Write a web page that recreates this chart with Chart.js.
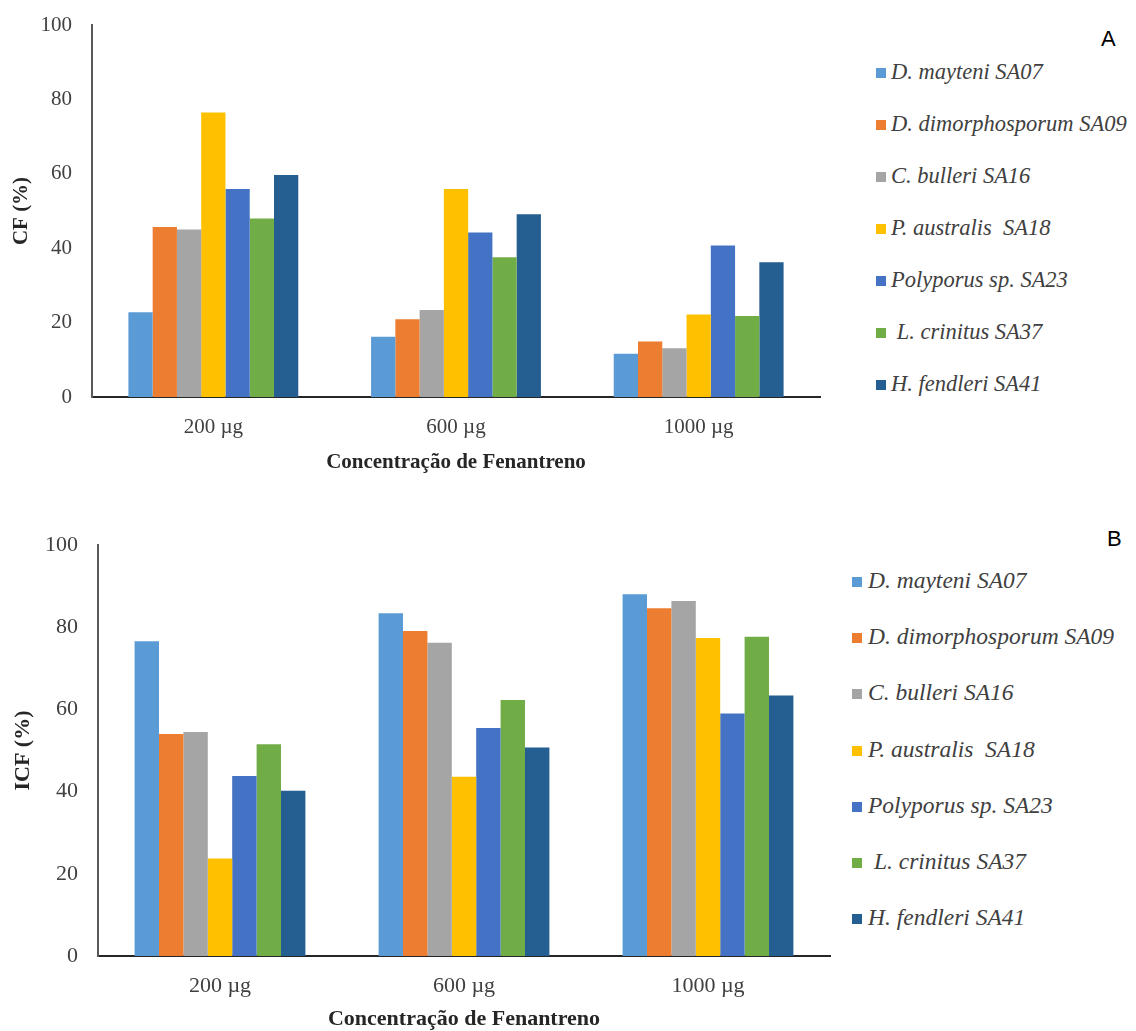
<!DOCTYPE html>
<html>
<head>
<meta charset="utf-8">
<script src="https://cdn.jsdelivr.net/npm/chart.js@4.4.0/dist/chart.umd.min.js"></script>
<style>
  body { margin: 0; background: #fff; width: 1136px; height: 1031px; position: relative; overflow: hidden; }
  canvas { position: absolute; left: 0; }
  .legend { position: absolute; font-family: "Liberation Serif", serif; font-style: italic; color: #404040; }
  .legend .item { position: absolute; white-space: pre; line-height: 1; }
  .legend .sw { position: absolute; width: 10px; height: 10px; }
  .tag { position: absolute; font-family: "Liberation Sans", sans-serif; font-size: 22px; color: #000; }
</style>
</head>
<body>
<canvas id="chartA" width="840" height="480" style="top:0"></canvas>
<canvas id="chartB" width="850" height="531" style="top:500px"></canvas>
<div class="legend" id="legendA"></div>
<div class="legend" id="legendB"></div>
<div class="tag" style="left:1101px; top:26px;">A</div>
<div class="tag" style="left:1107px; top:526px;">B</div>

<script>
// categories and series
const concentrations = ['200 µg', '600 µg', '1000 µg'];
const strains = ['D. mayteni SA07', 'D. dimorphosporum SA09', 'C. bulleri SA16', 'P. australis  SA18',
                 'Polyporus sp. SA23', ' L. crinitus SA37', 'H. fendleri SA41'];
const colors = ['#5B9BD5', '#ED7D31', '#A5A5A5', '#FFC000', '#4472C4', '#70AD47', '#255E91'];

// CF (%) values per strain: 200, 600, 1000 µg
const cfValues = [
  [22.8, 16.2, 11.6],
  [45.7, 20.9, 14.9],
  [45.0, 23.4, 13.1],
  [76.5, 55.9, 22.2],
  [55.9, 44.2, 40.7],
  [48.0, 37.6, 21.8],
  [59.7, 49.1, 36.2]
];

// ICF (%) values per strain: 200, 600, 1000 µg
const icfValues = [
  [76.6, 83.4, 88.0],
  [54.0, 79.1, 84.6],
  [54.5, 76.2, 86.4],
  [23.7, 43.6, 77.4],
  [43.8, 55.5, 59.0],
  [51.5, 62.3, 77.7],
  [40.2, 50.7, 63.4]
];

const yTicks = [0, 20, 40, 60, 80, 100];

function makeChart(id, values, yTitle, cfg) {
  const ctx = document.getElementById(id).getContext('2d');
  return new Chart(ctx, {
    type: 'bar',
    data: {
      labels: concentrations,
      datasets: strains.map((name, i) => ({
        label: name,
        data: values[i],
        backgroundColor: colors[i],
        borderWidth: 0,
        categoryPercentage: 0.7,
        barPercentage: 1.0
      }))
    },
    options: {
      responsive: false,
      animation: false,
      layout: { padding: { left: 0, right: cfg.padRight, top: cfg.padTop, bottom: 0 } },
      plugins: { legend: { display: false }, tooltip: { enabled: false } },
      scales: {
        x: {
          grid: { display: false, drawTicks: false },
          border: { color: '#262626', width: 2 },
          ticks: {
            color: '#404040',
            padding: cfg.xTickPad,
            font: { family: 'Liberation Serif', size: cfg.tickSize }
          },
          title: {
            display: true,
            text: 'Concentração de Fenantreno',
            color: '#262626',
            padding: { top: 0, bottom: cfg.xTitlePad },
            font: { family: 'Liberation Serif', size: cfg.titleSize, weight: 'bold' }
          },
          afterFit: s => { s.height = cfg.xHeight; }
        },
        y: {
          min: 0,
          max: 100,
          afterBuildTicks: s => { s.ticks = yTicks.map(v => ({ value: v })); },
          grid: { display: false, drawTicks: false },
          border: { color: '#595959', width: 2 },
          ticks: {
            color: '#404040',
            padding: 20,
            font: { family: 'Liberation Serif', size: cfg.tickSize }
          },
          title: {
            display: true,
            text: yTitle,
            color: '#262626',
            padding: { top: cfg.yTitlePad, bottom: 0 },
            font: { family: 'Liberation Serif', size: cfg.titleSize, weight: 'bold' }
          },
          afterFit: s => {
            s.width = cfg.yWidth;
            // keep label overflow from pushing the plot down
            s.paddingTop = 12;
            s.paddingBottom = 12;
          }
        }
      }
    }
  });
}

makeChart('chartA', cfValues, 'CF (%)', {
  padRight: 20, padTop: 25, xHeight: 83, yWidth: 92,
  tickSize: 21, titleSize: 21, xTickPad: 18, xTitlePad: 5, yTitlePad: 9
});

makeChart('chartB', icfValues, 'ICF (%)', {
  padRight: 20, padTop: 45, xHeight: 75, yWidth: 98,
  tickSize: 22, titleSize: 22, xTickPad: 17, xTitlePad: -2, yTitlePad: 10
});

function buildLegend(id, top, rowGap, swLeft, textLeft, size) {
  const box = document.getElementById(id);
  strains.forEach((name, i) => {
    const cy = top + i * rowGap;
    const sw = document.createElement('div');
    sw.className = 'sw';
    sw.style.background = colors[i];
    sw.style.left = swLeft + 'px';
    sw.style.top = (cy - 5) + 'px';
    box.appendChild(sw);
    const t = document.createElement('div');
    t.className = 'item';
    t.textContent = name;
    t.style.fontSize = size + 'px';
    t.style.left = textLeft + 'px';
    t.style.top = (cy - size * 0.55) + 'px';
    box.appendChild(t);
  });
}

buildLegend('legendA', 73, 52, 876, 891, 22.5);
buildLegend('legendB', 582, 56.2, 852, 868, 23.5);
</script>
</body>
</html>
